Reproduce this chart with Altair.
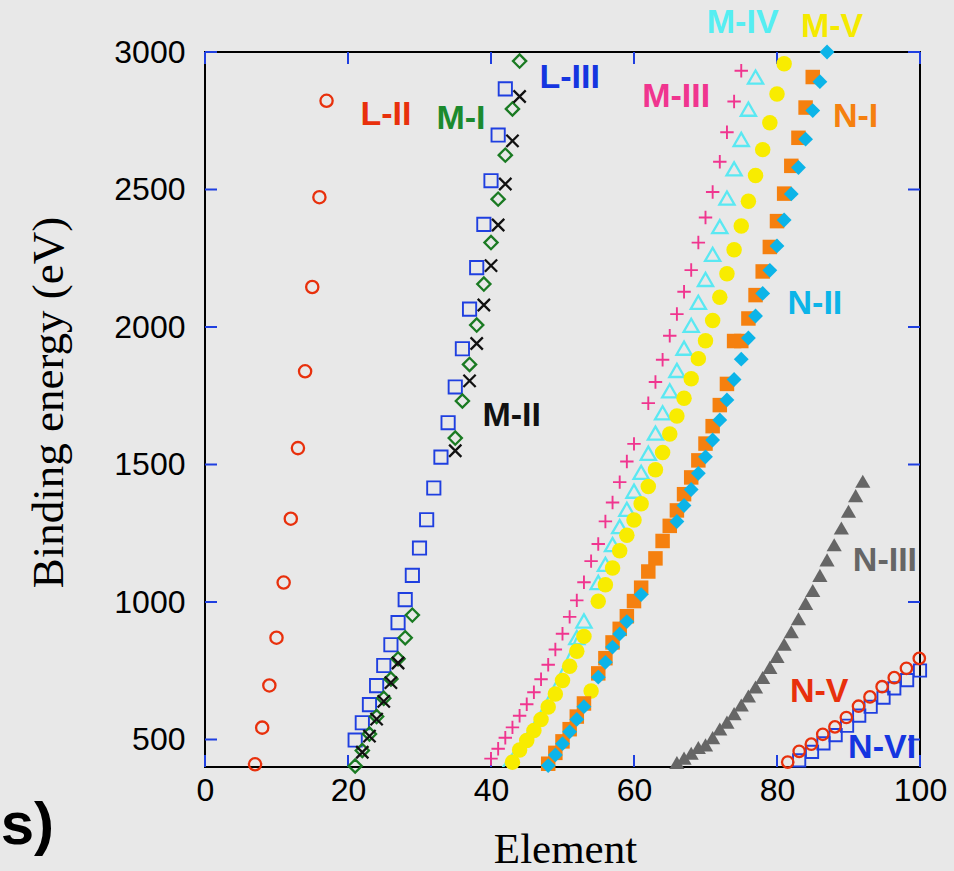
import altair as alt
import pandas as pd

# ---------------- data (Element number, binding energy in eV) ----------------
l2_z = [7, 8, 9, 10, 11, 12, 13, 14, 15, 16, 17]
l2_e = [409.9, 543.1, 696.7, 870.2, 1070.8, 1303.0, 1559.6, 1839.0, 2145.5, 2472.0, 2822.4]

l3_z = list(range(21, 43))
l3_e = [498.0, 560.9, 626.7, 696.0, 769.1, 844.6, 925.1, 1008.6, 1096.7, 1196.2, 1299.0,
        1414.6, 1527.0, 1652.0, 1782.0, 1921.0, 2065.0, 2216.0, 2373.0, 2532.0, 2698.0, 2866.0]

m1_z = [21, 22, 23, 24, 25, 26, 27, 28, 29, 35, 36, 37, 38, 39, 40, 41, 42, 43, 44]
m1_e = [403.6, 460.2, 519.8, 583.8, 649.9, 719.9, 793.2, 870.0, 952.3,
        1596.0, 1730.9, 1864.0, 2007.0, 2156.0, 2307.0, 2465.0, 2625.0, 2793.0, 2967.0]

m2_z = [22, 23, 24, 25, 26, 27, 35, 37, 38, 39, 40, 41, 42, 43, 44]
m2_e = [453.8, 512.1, 574.1, 638.7, 706.8, 778.1, 1550.0,
        1804.0, 1940.0, 2080.0, 2223.0, 2371.0, 2520.0, 2677.0, 2838.0]

m3_z = list(range(40, 61)) + list(range(62, 76))
m3_e = [430.3, 466.6, 506.3, 544.0, 586.1, 628.1, 671.6, 719.0, 772.0, 827.2, 884.7,
        946.0, 1006.0, 1072.0, 1148.7, 1211.0, 1293.0, 1362.0, 1436.0, 1511.0, 1575.0,
        1723.0, 1800.0, 1881.0, 1968.0, 2047.0, 2128.0, 2207.0, 2307.0, 2398.0, 2491.0,
        2601.0, 2708.0, 2820.0, 2932.0]

m4_line_z = list(range(40, 53))
m4_line_e = [343.5, 376.1, 411.6, 447.6, 483.5, 521.3, 559.9, 603.8, 652.6, 703.2, 756.5, 812.7, 870.8]
m4_z = [52, 53] + list(range(55, 78))
m4_e = [870.8, 931.0, 1071.0, 1137.0, 1209.0, 1274.0, 1337.0, 1403.0, 1471.4, 1541.0, 1614.0,
        1688.0, 1768.0, 1842.0, 1923.0, 2006.0, 2090.0, 2173.0, 2264.0, 2365.0, 2469.0,
        2575.0, 2682.0, 2792.0, 2909.0]

m5_z = list(range(43, 82))
m5_e = [417.7, 461.5, 496.5, 532.3, 573.0, 618.4, 665.3, 714.6, 766.4, 820.8, 875.0, 676.0,
        1003.0, 1063.0, 1124.0, 1186.0, 1243.0, 1298.0, 1357.0, 1419.8, 1481.0, 1544.0,
        1611.0, 1676.0, 1741.0, 1812.0, 1885.0, 1950.0, 2024.0, 2108.0, 2194.0, 2281.0,
        2367.0, 2457.0, 2551.0, 2645.0, 2743.0, 2847.0, 2957.0]

n1_z = [48, 49, 50, 51, 52, 53] + list(range(55, 86))
n1_e = [411.9, 451.4, 493.2, 537.5, 583.4, 631.0, 740.5, 795.7, 853.0, 902.4, 948.3,
        1003.3, 1052.0, 1110.9, 1158.6, 1221.9, 1276.9, 1333.0, 1392.0, 1453.0, 1515.0,
        1576.0, 1639.4, 1716.0, 1793.0, 1949.0, 1949.0, 2031.0, 2116.0, 2202.0, 2291.0,
        2385.0, 2485.0, 2586.0, 2688.0, 2798.0, 2909.0]

n2_z = [48, 49, 50, 51, 52, 53, 55, 56, 57, 58, 59, 61] + list(range(66, 88))
n2_e = [405.2, 443.9, 484.9, 528.2, 573.0, 619.3, 726.6, 780.5, 836.0, 883.8, 928.8, 1027.0,
        1292.6, 1351.0, 1409.0, 1468.0, 1528.0, 1589.0, 1662.0, 1735.0, 1809.0, 1883.0,
        1960.0, 2040.0, 2122.0, 2206.0, 2295.0, 2389.0, 2484.0, 2580.0, 2683.0, 2787.0,
        2892.0, 3000.0]

n3_z = list(range(66, 93))
n3_e = [416.3, 432.4, 449.8, 470.9, 480.5, 506.8, 538.0, 563.4, 594.1, 625.4, 658.2, 691.1,
        725.4, 762.1, 802.2, 846.2, 891.8, 939.0, 995.0, 1042.0, 1097.0, 1153.0, 1208.0,
        1269.0, 1330.0, 1387.0, 1439.0]

n5_z = [81.5, 83.1, 84.8, 86.4, 88.1, 89.7, 91.4, 93.0, 94.7, 96.4, 98.1, 99.9]
n5_e = [418, 457, 483, 519, 546, 580, 621, 655, 692, 725, 759, 795]

n6_z = [83.1, 84.9, 86.5, 88.2, 89.8, 91.5, 93.1, 94.9, 96.4, 98.2, 100.0]
n6_e = [424, 455, 486, 516, 550, 587, 619, 652, 686, 716, 751]

label_text = ["L-II", "M-I", "L-III", "M-II", "M-III", "M-IV", "M-V", "N-I", "N-II", "N-III", "N-V", "N-VI"]
label_x = [25.3, 35.8, 51.0, 42.9, 65.9, 75.2, 87.7, 91.0, 85.3, 95.1, 85.9, 94.7]
label_y = [2770, 2755, 2905, 1677, 2835, 3105, 3090, 2762, 2085, 1149, 672, 468]
label_color = ["#e8300c", "#1b8a2e", "#1535e0", "#111111", "#f0358f", "#55eef2", "#f5ea00",
               "#f5800f", "#0cb4e8", "#666666", "#e8300c", "#1535e0"]

x_ticks = [0, 20, 40, 60, 80, 100]
y_ticks = [500, 1000, 1500, 2000, 2500, 3000]

# ---------------- chart ----------------
W, H = 715, 715
TICK = "#1f3fe0"

xs = alt.Scale(domain=[0, 100], nice=False, zero=False)
ys = alt.Scale(domain=[400, 3000], nice=False, zero=False)

X_AXIS = alt.Axis(values=x_ticks, title="Element", grid=False, ticks=False, tickSize=0, domain=False,
                  format="d", labelFont="Liberation Sans", labelFontSize=32, labelColor="black",
                  labelPadding=8, labelFlush=False, titleFont="Liberation Serif", titleFontSize=43,
                  titleFontWeight="normal", titleColor="black", titleX=360, titleY=95,
                  titleBaseline="alphabetic")
Y_AXIS = alt.Axis(values=y_ticks, title="Binding energy (eV)", grid=False, ticks=False, tickSize=0,
                  domain=False, format="d", labelFont="Liberation Sans", labelFontSize=32,
                  labelColor="black", labelPadding=20, labelFlush=False,
                  titleFont="Liberation Serif", titleFontSize=45, titleFontWeight="normal",
                  titleColor="black", titleAngle=270, titleX=-143, titleY=350,
                  titleBaseline="alphabetic", titleAlign="center")


def X(f="Z"):
    return alt.X(f + ":Q", scale=xs, axis=X_AXIS)


def Y(f="E"):
    return alt.Y(f + ":Q", scale=ys, axis=Y_AXIS)


def df(z, e):
    return pd.DataFrame({"Z": z, "E": e})


PLUS = "M-1,0L1,0M0,-1L0,1"
CROSS = "M-1,-1L1,1M-1,1L1,-1"

layers = []


def pts(z, e, shape, size, color, filled, sw=2.0):
    if filled:
        m = alt.Chart(df(z, e)).mark_point(shape=shape, size=size, filled=True, fill=color,
                                           opacity=1)
    else:
        m = alt.Chart(df(z, e)).mark_point(shape=shape, size=size, filled=False, stroke=color,
                                           strokeWidth=sw, opacity=1)
    return m.encode(x=X(), y=Y())


# inward ticks
xt = pd.DataFrame({"t": x_ticks})
yt = pd.DataFrame({"t": y_ticks})
layers.append(alt.Chart(xt).mark_rule(color=TICK, strokeWidth=2).encode(
    x=alt.X("t:Q", scale=xs, axis=X_AXIS), y=alt.value(H), y2=alt.value(H - 12)))
layers.append(alt.Chart(xt).mark_rule(color=TICK, strokeWidth=2).encode(
    x=alt.X("t:Q", scale=xs, axis=X_AXIS), y=alt.value(0), y2=alt.value(12)))
layers.append(alt.Chart(yt).mark_rule(color=TICK, strokeWidth=2).encode(
    y=alt.Y("t:Q", scale=ys, axis=Y_AXIS), x=alt.value(0), x2=alt.value(12)))
layers.append(alt.Chart(yt).mark_rule(color=TICK, strokeWidth=2).encode(
    y=alt.Y("t:Q", scale=ys, axis=Y_AXIS), x=alt.value(W), x2=alt.value(W - 12)))

# series
layers.append(pts(l2_z, l2_e, "circle", 150, "#e8300c", False, 2.3))
layers.append(pts(l3_z, l3_e, "square", 175, "#1f3fe0", False, 1.9))
layers.append(pts(m1_z, m1_e, "diamond", 175, "#1a7a22", False, 2.3))
layers.append(pts(m2_z, m2_e, CROSS, 150, "#111111", False, 2.3))
layers.append(pts(m3_z, m3_e, PLUS, 180, "#f0358f", False, 1.9))
layers.append(alt.Chart(df(m4_line_z, m4_line_e)).mark_line(color="#5ae8f2", strokeWidth=2.2, clip=True)
              .encode(x=X(), y=Y()))
layers.append(pts(m4_z, m4_e, "triangle-up", 230, "#5ae8f2", False, 2.3))
layers.append(pts(m5_z, m5_e, "circle", 240, "#f8ec00", True))
layers.append(pts(n1_z, n1_e, "square", 210, "#f5800f", True))
layers.append(pts(n2_z, n2_e, "diamond", 220, "#0cb4e8", True))
layers.append(pts(n3_z, n3_e, "triangle-up", 230, "#666666", True))
layers.append(pts(n6_z, n6_e, "square", 150, "#1f3fe0", False, 1.9))
layers.append(pts(n5_z, n5_e, "circle", 130, "#e8300c", False, 2.3))

# labels
lab = pd.DataFrame({"label": label_text, "Z": label_x, "E": label_y, "c": label_color})
layers.append(alt.Chart(lab).mark_text(font="Liberation Sans", fontSize=34, fontWeight="bold",
                                       align="center", baseline="middle")
              .encode(x=X(), y=Y(), text="label:N", color=alt.Color("c:N", scale=None)))

# panel letter at the lower left
layers.append(alt.Chart(pd.DataFrame({"t": ["s)"]})).mark_text(
    font="Liberation Sans", fontSize=60, fontWeight="bold", align="right", baseline="alphabetic",
    color="black").encode(x=alt.value(-151), y=alt.value(792), text="t:N"))

chart = alt.layer(*layers).properties(
    width=W, height=H,
    autosize=alt.AutoSizeParams(type="none"),
    padding={"left": 205, "top": 52, "right": 34, "bottom": 104},
    background="#e8e8e8",
).configure_view(stroke="black", strokeWidth=2)

chart.save("out.html", embed_options={"renderer": "svg", "actions": False})
